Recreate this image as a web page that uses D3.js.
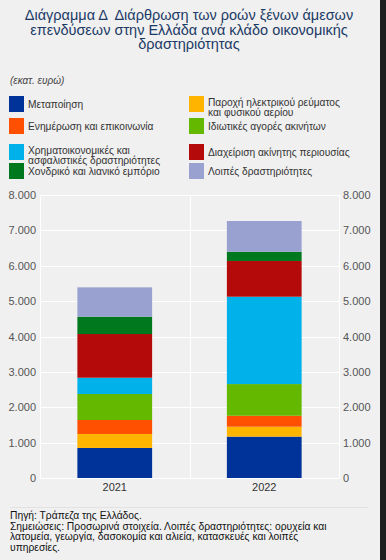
<!DOCTYPE html>
<html>
<head>
<meta charset="utf-8">
<script src="https://cdn.jsdelivr.net/npm/d3@7"></script>
<style>
  body { margin: 0; background: #f0f0f0; }
  svg { display: block; font-family: "Liberation Sans", Arial, sans-serif; }
  text { white-space: pre; }
</style>
</head>
<body>
<div id="chart"></div>
<script>
const log = console.log

// data
const years = ["2021", "2022"]
const sectors = [
    "Μεταποίηση",
    "Παροχή ηλεκτρικού ρεύματος\nκαι φυσικού αερίου",
    "Ενημέρωση και επικοινωνία",
    "Ιδιωτικές αγορές ακινήτων",
    "Χρηματοικονομικές και\nασφαλιστικές δραστηριότητες",
    "Διαχείριση ακίνητης περιουσίας",
    "Χονδρικό και λιανικό εμπόριο",
    "Λοιπές δραστηριότητες"
]
const colors = ["#003399", "#ffb400", "#ff4f00", "#65b800", "#00b1ea", "#b40a0a", "#00781e", "#98a1d0"]
const values2021 = [850, 395, 395, 735, 460, 1235, 490, 830]
const values2022 = [1170, 280, 310, 895, 2470, 1010, 260, 870]
const yTicks = [0, 1000, 2000, 3000, 4000, 5000, 6000, 7000, 8000]

const titleLines = [
    "Διάγραμμα Δ  Διάρθρωση των ροών ξένων άμεσων",
    "επενδύσεων στην Ελλάδα ανά κλάδο οικονομικής",
    "δραστηριότητας"
]
const unitLabel = "(εκατ. ευρώ)"
const footLines = [
    "Πηγή: Τράπεζα της Ελλάδος.",
    "Σημειώσεις: Προσωρινά στοιχεία. Λοιπές δραστηριότητες: ορυχεία και",
    "λατομεία, γεωργία, δασοκομία και αλιεία, κατασκευές και λοιπές",
    "υπηρεσίες."
]

const W = 386, H = 560
const svg = d3.select("#chart").append("svg").attr("width", W).attr("height", H)

// page background + dark strip at the right edge
svg.append("rect").attr("width", W).attr("height", H).attr("fill", "#f0f0f0")
svg.append("rect").attr("x", 380).attr("width", W - 380).attr("height", H).attr("fill", "#1d1d1d")

/** Title */
svg.append("g").selectAll("text").data(titleLines).join("text")
    .attr("x", 189)
    .attr("y", (d, i) => 20 + i * 14.5)
    .attr("text-anchor", "middle")
    .attr("font-size", 14.5)
    .attr("fill", "#1b3a66")
    .text(d => d)

svg.append("text")
    .attr("x", 10).attr("y", 84)
    .attr("font-size", 10).attr("font-style", "italic").attr("fill", "#444")
    .text(unitLabel)

/** Legend */
const rowTops = [96, 118, 144, 163]
const legend = svg.append("g")
sectors.forEach((name, i) => {
    const col = i % 2
    const row = Math.floor(i / 2)
    const x = col === 0 ? 9 : 189
    const top = rowTops[row]
    legend.append("rect")
        .attr("x", x).attr("y", top)
        .attr("width", 15).attr("height", 16)
        .attr("fill", colors[i])
    const lines = name.split("\n")
    const t = legend.append("text")
        .attr("font-size", 10.2).attr("fill", "#333")
    lines.forEach((line, j) => {
        t.append("tspan")
            .attr("x", x + 19)
            .attr("y", top + 11.5 + j * 9.5 - (lines.length > 1 ? 1.5 : 0))
            .text(line)
    })
})

/** Chart */
const plot = {left: 40, right: 339, top: 195, bottom: 478}
const x = d3.scaleBand().domain(years).range([plot.left, plot.right]).paddingInner(0.5).paddingOuter(0.25)
const y = d3.scaleLinear().domain([0, 8000]).range([plot.bottom, plot.top])

const grLocale = d3.formatLocale({decimal: ",", thousands: ".", grouping: [3], currency: ["", "€"]})
const fmt = grLocale.format(",")

const grid = svg.append("g").attr("stroke", "#ffffff").attr("stroke-width", 1)
yTicks.forEach(t => {
    grid.append("line")
        .attr("x1", plot.left).attr("x2", plot.right)
        .attr("y1", Math.round(y(t)) + 0.5).attr("y2", Math.round(y(t)) + 0.5)
})
;[plot.left, (plot.left + plot.right) / 2, plot.right].forEach(gx => {
    grid.append("line")
        .attr("x1", Math.round(gx) + 0.5).attr("x2", Math.round(gx) + 0.5)
        .attr("y1", plot.top).attr("y2", plot.bottom)
})

// stacked bars
const rows = years.map(yr => {
    const r = {year: yr}
    sectors.forEach((s, i) => { r[i] = yr === "2021" ? values2021[i] : values2022[i] })
    return r
})
const stack = d3.stack().keys(sectors.map((s, i) => i))(rows)

svg.append("g").selectAll("g").data(stack).join("g")
    .attr("fill", d => colors[d.key])
    .selectAll("rect").data(d => d).join("rect")
    .attr("x", d => x(d.data.year))
    .attr("width", x.bandwidth())
    .attr("y", d => y(d[1]))
    .attr("height", d => y(d[0]) - y(d[1]))

// axes
const yLeft = svg.append("g")
    .attr("transform", `translate(${plot.left},0)`)
    .call(d3.axisLeft(y).tickValues(yTicks).tickFormat(fmt).tickSize(0).tickPadding(4))
const yRight = svg.append("g")
    .attr("transform", `translate(${plot.right},0)`)
    .call(d3.axisRight(y).tickValues(yTicks).tickFormat(fmt).tickSize(0).tickPadding(4))
const xAxis = svg.append("g")
    .attr("transform", `translate(0,${plot.bottom})`)
    .call(d3.axisBottom(x).tickSize(0).tickPadding(5))

;[yLeft, yRight, xAxis].forEach(ax => {
    ax.select(".domain").remove()
    ax.selectAll("text")
        .attr("font-family", "Liberation Sans, Arial, sans-serif")
        .attr("font-size", 11)
        .attr("fill", "#555")
})
xAxis.selectAll("text").attr("fill", "#333")

/** Footer */
svg.append("line")
    .attr("x1", 10).attr("x2", 368)
    .attr("y1", 507.5).attr("y2", 507.5)
    .attr("stroke", "#e2e2e2")

svg.append("g").selectAll("text").data(footLines).join("text")
    .attr("x", 10)
    .attr("y", (d, i) => 519 + i * 10.6)
    .attr("font-size", 10.3)
    .attr("fill", "#111")
    .text(d => d)
</script>
</body>
</html>
